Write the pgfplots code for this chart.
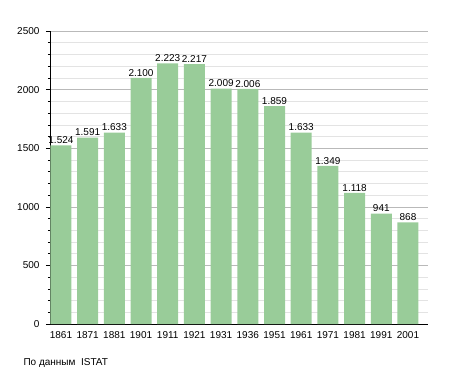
\documentclass[border=0pt]{standalone}
\usepackage{pgfplots}
\pgfplotsset{compat=1.18}
\usepackage{fontspec}
\setmainfont{Liberation Sans}
\definecolor{barg}{HTML}{99CC99}
\begin{document}
\begin{tikzpicture}[x=1pt,y=1pt]
\path (0,0) rectangle (455,373);
\begin{axis}[
  at={(50pt,49pt)}, anchor=south west,
  scale only axis, width=378pt, height=293pt,
  ymin=0, ymax=2500,
  xmin=-0.41, xmax=13.75,
  axis x line*=bottom, axis y line*=left,
  ytick={0,500,...,2500}, minor ytick={0,100,...,2500},
  ymajorgrids, yminorgrids,
  major grid style={gray!55, line width=0.5pt},
  minor grid style={gray!22, line width=0.5pt},
  tick style={black, line width=0.5pt},
  major tick length=4pt, minor tick length=2pt,
  ytick pos=left, tick align=outside,
  xtick=data,
  xticklabels={1861,1871,1881,1901,1911,1921,1931,1936,1951,1961,1971,1981,1991,2001},
  xtick style={draw=none},
  tick label style={font=\fontsize{10}{11}\selectfont},
  yticklabel style={xshift=-3pt},
  /pgf/number format/assume math mode=true,
  scaled y ticks=false,
  yticklabel style={/pgf/number format/1000 sep={}},
  axis line style={black, line width=0.6pt},
  ybar, bar width=21pt,
  nodes near coords,
  every node near coord/.append style={font=\fontsize{10}{11}\selectfont, /pgf/number format/1000 sep={.}, /pgf/number format/assume math mode=true, inner sep=1.5pt},
  clip=false,
]
\addplot[fill=barg, draw=none] coordinates {
(0,1524) (1,1591) (2,1633) (3,2100) (4,2223) (5,2217) (6,2009) (7,2006) (8,1859) (9,1633) (10,1349) (11,1118) (12,941) (13,868)};
\end{axis}
\node[anchor=base west, font=\fontsize{10}{11}\selectfont] at (20,8) {По данным\ \ ISTAT};
\end{tikzpicture}
\end{document}
